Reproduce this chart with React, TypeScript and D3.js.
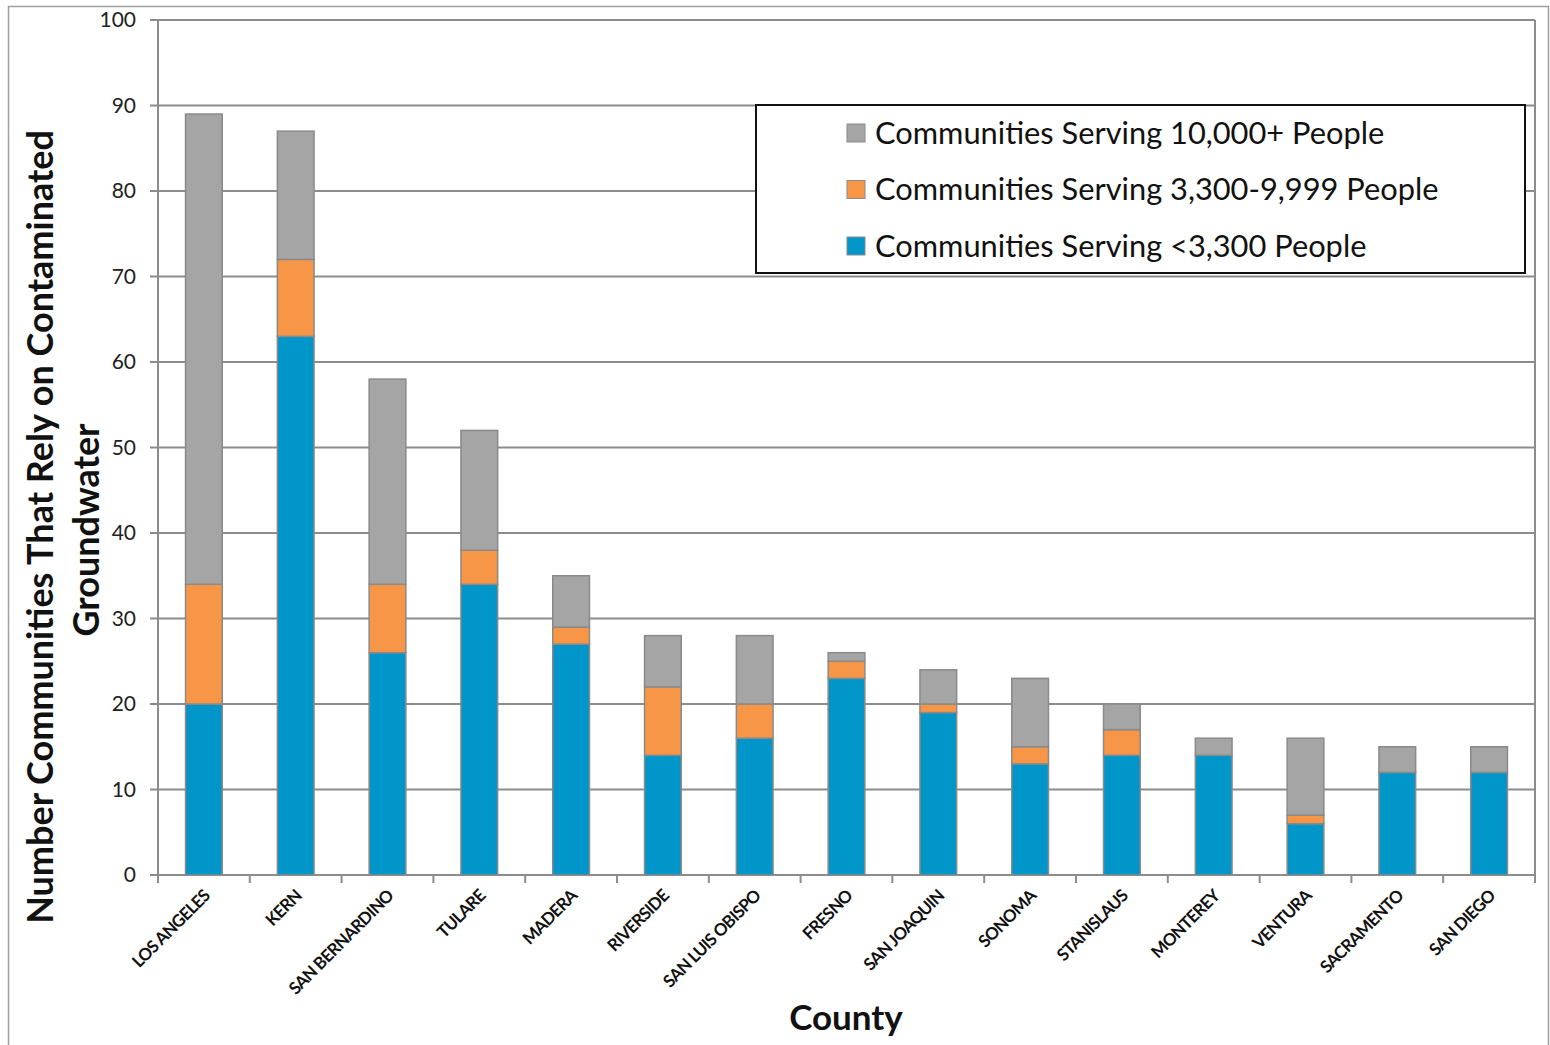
import React from "react";
import * as d3 from "d3";

const counties = ["LOS ANGELES","KERN","SAN BERNARDINO","TULARE","MADERA","RIVERSIDE","SAN LUIS OBISPO","FRESNO","SAN JOAQUIN","SONOMA","STANISLAUS","MONTEREY","VENTURA","SACRAMENTO","SAN DIEGO"];
const small = [20,63,26,34,27,14,16,23,19,13,14,14,6,12,12];
const medium = [14,9,8,4,2,8,4,2,1,2,3,0,1,0,0];
const large = [55,15,24,14,6,6,8,1,4,8,3,2,9,3,3];
const yTicks = [0,10,20,30,40,50,60,70,80,90,100];
const seriesNames = ["Communities Serving <3,300 People","Communities Serving 3,300-9,999 People","Communities Serving 10,000+ People"];
const colors = ["#0096c9","#f79646","#a5a5a5"];

export default function App() {
  const W = 1550, H = 1045;
  const left = 158, right = 1535, top = 20, bottom = 875;
  const x = d3.scaleBand().domain(counties).range([left, right]).paddingInner(0.6).paddingOuter(0.3);
  const xb = d3.scaleBand().domain(counties).range([left, right]);
  const y = d3.scaleLinear().domain([0, 100]).range([bottom, top]);
  const rows = counties.map((c, i) => ({ county: c, s0: small[i], s1: medium[i], s2: large[i] }));
  const stacked = d3.stack<any>().keys(["s0", "s1", "s2"])(rows);
  const font = "Lato, 'Open Sans', sans-serif";
  const legendOrder = [2, 1, 0];
  return (
    <svg width={W} height={H} style={{ position: "absolute", left: 0, top: 0, background: "#fff" }}>
      <rect x={8.5} y={6.5} width={1540} height={1045} fill="#fff" stroke="#a0a0a0" strokeWidth={1.5} />
      {yTicks.map(t => (
        <g key={t}>
          <line x1={left - 8} x2={right} y1={y(t)} y2={y(t)} stroke="#8c8c8c" strokeWidth={2} />
          <text x={left - 22} y={y(t)} dy="0.35em" textAnchor="end" fontFamily={font} fontSize={21} fill="#222">{t}</text>
        </g>
      ))}
      <line x1={left} x2={left} y1={top} y2={bottom} stroke="#8c8c8c" strokeWidth={2} />
      <line x1={right} x2={right} y1={top} y2={bottom + 8} stroke="#8c8c8c" strokeWidth={2} />
      {counties.map(c => (
        <line key={c} x1={xb(c)!} x2={xb(c)!} y1={bottom} y2={bottom + 8} stroke="#8c8c8c" strokeWidth={2} />
      ))}
      {stacked.map((s, si) => (
        <g key={si}>
          {s.map((d, i) => (d[1] - d[0] > 0 ? (
            <rect key={i} x={x(counties[i])!} y={y(d[1])} width={x.bandwidth()} height={y(d[0]) - y(d[1])}
              fill={colors[si]} stroke="#8a8a8a" strokeWidth={1.5} />
          ) : null))}
        </g>
      ))}
      {counties.map(c => {
        const cx = xb(c)! + xb.bandwidth() / 2 + 7;
        return (
          <text key={c} transform={`translate(${cx},${bottom + 22}) rotate(-45)`} textAnchor="end"
            fontFamily={font} fontWeight="bold" fontSize={17} fill="#111" letterSpacing={-0.8}>{c}</text>
        );
      })}
      <text transform={`translate(53,527) rotate(-90)`} textAnchor="middle" fontFamily={font} fontWeight="bold" fontSize={36} fill="#111">Number Communities That Rely on Contaminated</text>
      <text transform={`translate(99,530) rotate(-90)`} textAnchor="middle" fontFamily={font} fontWeight="bold" fontSize={36} fill="#111">Groundwater</text>
      <text x={846} y={1030} textAnchor="middle" fontFamily={font} fontWeight="bold" fontSize={35} fill="#111">County</text>
      <rect x={756} y={105} width={769} height={168} fill="#fff" stroke="#111" strokeWidth={2} />
      {legendOrder.map((si, k) => (
        <g key={si} transform={`translate(847,${133 + k * 56.5})`}>
          <rect x={0} y={-9} width={18} height={18} fill={colors[si]} stroke="#8a8a8a" strokeWidth={1} />
          <text x={28} y={0} dy="0.35em" fontFamily={font} fontSize={30.8} fill="#111">{seriesNames[si]}</text>
        </g>
      ))}
    </svg>
  );
}
